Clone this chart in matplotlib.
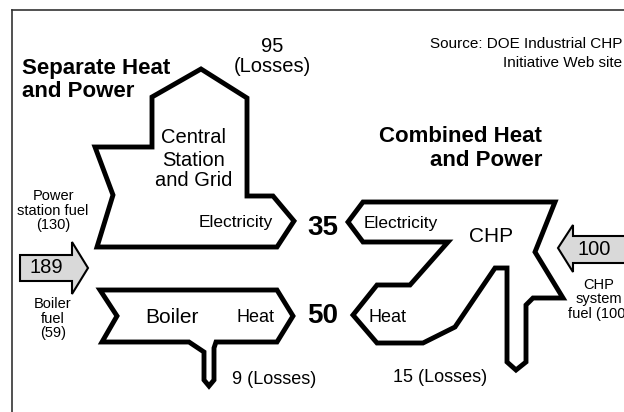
import matplotlib
matplotlib.use("Agg")
import matplotlib.pyplot as plt
from matplotlib.patches import Polygon
from matplotlib.lines import Line2D

plt.rcParams['font.family'] = ['Liberation Sans', 'DejaVu Sans']

# ---- data (energy units) ----
sep_fuel_total = 189
power_station_fuel = 130
boiler_fuel = 59
power_losses = 95
electricity_out = 35
heat_out = 50
boiler_losses = 9
chp_losses = 15
chp_fuel = 100

W, H = 624, 412
fig = plt.figure(figsize=(W / 100, H / 100), dpi=100)
ax = fig.add_axes([0, 0, 1, 1])
ax.set_xlim(0, W)
ax.set_ylim(H, 0)
ax.axis('off')

# ---- frame ----
ax.add_line(Line2D([12, W + 5], [10, 10], color='#333333', lw=1.2))
ax.add_line(Line2D([12, 12], [10, H + 5], color='#333333', lw=1.2))

LW = 3.5
def shape(pts, fc='white', lw=LW):
    ax.add_patch(Polygon(pts, closed=True, fc=fc, ec='black', lw=lw,
                         joinstyle='miter'))

# Central station (separate power)
shape([(95, 147), (152, 147), (152, 97), (201, 69), (247, 98), (247, 196),
       (273, 196), (294, 221), (277, 247), (97, 247), (113, 195)])
# Boiler
shape([(100, 290), (277, 290), (293, 316), (277, 342), (216, 342), (214, 348),
       (214, 380), (209, 386), (204, 380), (204, 352), (189, 342), (102, 342),
       (117, 316)])
# CHP
shape([(363, 202), (555, 202), (535, 252), (563, 298), (533, 298), (526, 305),
       (526, 362), (516, 370), (507, 362), (507, 268), (495, 268), (455, 327),
       (423, 343), (377, 343), (353, 315), (377, 285), (410, 285), (448, 242),
       (363, 242), (348, 222)])

# fuel input arrows
GRAY = '#d9d9d9'
shape([(20, 255), (72, 255), (72, 242), (88, 268), (72, 294), (72, 281),
       (20, 281)], fc=GRAY, lw=1.5)
shape([(640, 236), (573, 236), (573, 225), (558, 248), (573, 272), (573, 263),
       (640, 263)], fc=GRAY, lw=1.5)

def t(x, y, s, size, ha='center', weight='normal'):
    ax.text(x, y, s, fontsize=size, ha=ha, va='baseline', fontweight=weight,
            color='black')

# titles
t(22, 74, "Separate Heat", 16, ha='left', weight='bold')
t(22, 97, "and Power", 16, ha='left', weight='bold')
t(542, 142, "Combined Heat", 16, ha='right', weight='bold')
t(542, 166, "and Power", 16, ha='right', weight='bold')
t(622, 48, "Source: DOE Industrial CHP", 11, ha='right')
t(622, 67, "Initiative Web site", 11, ha='right')

# separate system labels
t(272, 52, f"{power_losses}", 14.5)
t(272, 72, "(Losses)", 14.5)
t(194, 143, "Central", 14.5)
t(194, 166, "Station", 14.5)
t(194, 186, "and Grid", 14.5)
t(236, 227, "Electricity", 12.5)
t(172, 323, "Boiler", 15)
t(255, 322, "Heat", 13)
t(232, 384, f"{boiler_losses} (Losses)", 13, ha='left')

t(53, 200, "Power", 10.5)
t(53, 215, "station fuel", 10.5)
t(53, 229, f"({power_station_fuel})", 10.5)
t(46, 273, f"{sep_fuel_total}", 14.5)
t(53, 308, "Boiler", 10.5)
t(53, 323, "fuel", 10.5)
t(53, 337, f"({boiler_fuel})", 10.5)

# outputs
t(323, 235, f"{electricity_out}", 20, weight='bold')
t(323, 323, f"{heat_out}", 20, weight='bold')

# CHP labels
t(401, 228, "Electricity", 12.5)
t(491, 242, "CHP", 15)
t(388, 322, "Heat", 13)
t(440, 382, f"{chp_losses} (Losses)", 13)
t(594, 255, f"{chp_fuel}", 14.5)
t(599, 289, "CHP", 10.5)
t(599, 303, "system", 10.5)
t(599, 318, f"fuel ({chp_fuel})", 10.5)

fig.savefig("out.png", dpi=100)
